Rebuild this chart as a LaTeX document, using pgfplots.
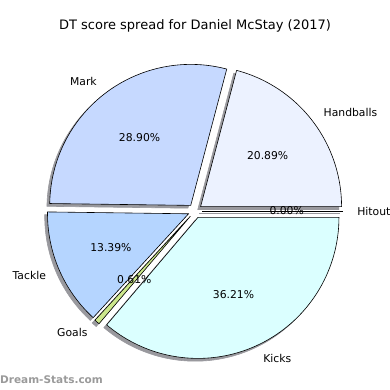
\documentclass[border=0pt]{standalone}
\usepackage{pgfplots}
\pgfplotsset{compat=1.18}
\usepackage{fontspec}
\setmainfont{DejaVu Sans}
\definecolor{cHand}{HTML}{ECF2FF}
\definecolor{cMark}{HTML}{C6D9FF}
\definecolor{cTack}{HTML}{B5D5FF}
\definecolor{cGoal}{HTML}{CCE78C}
\definecolor{cKick}{HTML}{DBFFFF}
\definecolor{cShad}{rgb}{0.6,0.6,0.62}
\definecolor{cWm}{HTML}{9A9A9A}
\def\cx{195}\def\cy{179}\def\R{141}\def\ex{7.05}
% start angle, end angle, colour, shadow?(1/0)
\newcommand\slice[3]{%
  \pgfmathsetmacro\mid{(#1+#2)/2}%
  \pgfmathsetmacro\ox{\cx+\ex*cos(\mid)}%
  \pgfmathsetmacro\oy{\cy+\ex*sin(\mid)}%
  \edef\temp{\noexpand\addplot[fill=#3, draw=black, line width=0.6pt, domain=#1:#2, samples=90]
    ({\ox+\R*cos(x)},{\oy+\R*sin(x)}) -- (axis cs:\ox,\oy) -- cycle;}%
  \temp}
\newcommand\shadow[2]{%
  \pgfmathsetmacro\mid{(#1+#2)/2}%
  \pgfmathsetmacro\ox{\cx+\ex*cos(\mid)-2.8}%
  \pgfmathsetmacro\oy{\cy+\ex*sin(\mid)-2.8}%
  \edef\temp{\noexpand\addplot[fill=cShad, draw=cShad, line width=0.6pt, domain=#1:#2, samples=90]
    ({\ox+\R*cos(x)},{\oy+\R*sin(x)}) -- (axis cs:\ox,\oy) -- cycle;}%
  \temp}
\newcommand\labels[4]{% start, end, name, pct
  \pgfmathsetmacro\mid{(#1+#2)/2}%
  \pgfmathsetmacro\lx{\cx+162.15*cos(\mid)}%
  \pgfmathsetmacro\ly{\cy+162.15*sin(\mid)}%
  \pgfmathsetmacro\px{\cx+91.65*cos(\mid)}%
  \pgfmathsetmacro\py{\cy+91.65*sin(\mid)}%
  \pgfmathparse{cos(\mid)>=0 ? 1 : 0}%
  \ifnum\pgfmathresult=1 \def\anch{west}\else\def\anch{east}\fi
  \edef\temp{\noexpand\node[anchor=\anch, inner sep=0pt] at (axis cs:\lx,\ly) {#3};
    \noexpand\node[inner sep=0pt] at (axis cs:\px,\py) {#4};}%
  \temp}
\begin{document}
\begin{tikzpicture}
\fontsize{10.8}{13}\selectfont
\begin{axis}[
  width=390pt, height=390pt, scale only axis,
  xmin=0, xmax=390, ymin=0, ymax=390,
  hide axis, clip=false,
]
% percentages: Handballs 20.89, Mark 28.90, Tackle 13.39, Goals 0.61, Kicks 36.21, Hitout 0.00
% angles = cumulative percentage * 3.6
\shadow{0}{75.204}
\shadow{75.204}{179.244}
\shadow{179.244}{227.448}
\shadow{227.448}{229.644}
\shadow{229.644}{360}
\addplot[draw=cShad, line width=0.6pt] coordinates {(199.25,176.2) (340.25,176.2)};
\slice{0}{75.204}{cHand}
\slice{75.204}{179.244}{cMark}
\slice{179.244}{227.448}{cTack}
\slice{227.448}{229.644}{cGoal}
\slice{229.644}{360}{cKick}
\addplot[draw=black, line width=0.6pt] coordinates {(202.05,179) (343.05,179)};
\labels{0}{75.204}{Handballs}{20.89\%}
\labels{75.204}{179.244}{Mark}{28.90\%}
\labels{179.244}{227.448}{Tackle}{13.39\%}
\labels{227.448}{229.644}{Goals}{0.61\%}
\labels{229.644}{360}{Kicks}{36.21\%}
\labels{360}{360}{Hitout}{0.00\%}
\node[font=\fontsize{13}{15}\selectfont] at (axis cs:195,364) {DT score spread for Daniel McStay (2017)};
\node[anchor=west, inner sep=0pt, text=cWm, font=\bfseries\fontsize{10.5}{12}\selectfont] at (axis cs:0,10) {Dream-Stats.com};
\end{axis}
\pgfresetboundingbox
\path (current axis.south west) rectangle (current axis.north east);
\end{tikzpicture}
\end{document}
